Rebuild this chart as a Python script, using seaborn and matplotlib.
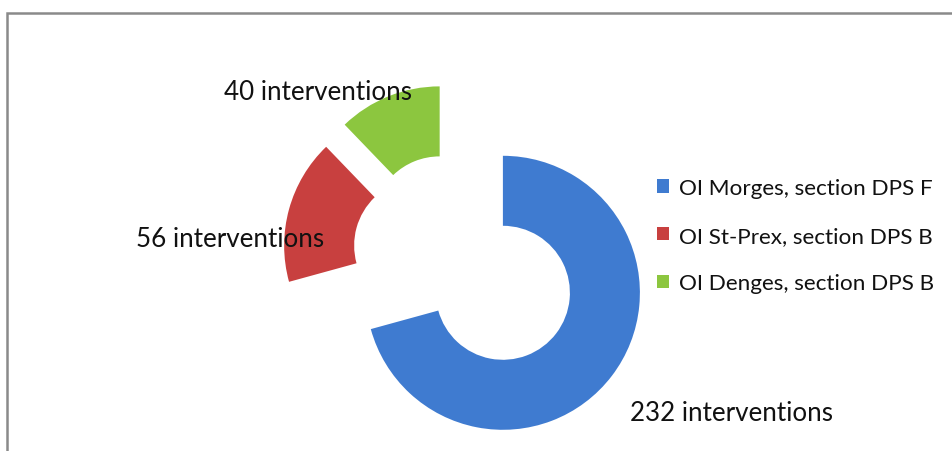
import matplotlib
matplotlib.use("Agg")
import matplotlib.pyplot as plt
import seaborn as sns
from matplotlib.patches import Rectangle

# data
sections = ['OI Morges, section DPS F', 'OI St-Prex, section DPS B', 'OI Denges, section DPS B']
interventions = [232, 56, 40]
colors = ['#3F7BD0', '#C8403F', '#8CC63F']

sns.set_style("white")
plt.rcParams['font.family'] = ['Lato', 'DejaVu Sans']

W, H = 953, 452
fig = plt.figure(figsize=(W / 100, H / 100), dpi=100)
ax = fig.add_axes([0, 0, 1, 1])

R = 137
# explode is in data units here (pixels)
wedges, _ = ax.pie(interventions, colors=colors, startangle=90, counterclock=False,
                   radius=R, center=(452, H - 255), explode=[64, 32, 33],
                   wedgeprops=dict(width=70, linewidth=0))
ax.set_xlim(0, W)
ax.set_ylim(0, H)
ax.set_aspect('equal')
ax.axis('off')

# value labels
label_pos = [(732, H - 414), (230, H - 240), (318, H - 92)]
for (x, y), v in zip(label_pos, interventions):
    ax.text(x, y, f'{v} interventions', ha='center', va='center', fontsize=18.7, color='#111111')

leg = ax.legend(wedges, sections, loc='upper left', bbox_to_anchor=(648 / W, 1 - 170 / H),
                frameon=False, fontsize=16.2, handlelength=0.55, handleheight=0.55,
                handletextpad=0.45, labelspacing=1.23, borderaxespad=0)
for t in leg.get_texts():
    t.set_color('#111111')

# chart frame
fig.patches.append(Rectangle((7 / W, -0.05), 1.1, 1 - 14 / H + 0.05, transform=fig.transFigure,
                             fill=False, edgecolor='#8a8a8a', linewidth=1.8))

fig.savefig('out.png', dpi=100, facecolor='white')
